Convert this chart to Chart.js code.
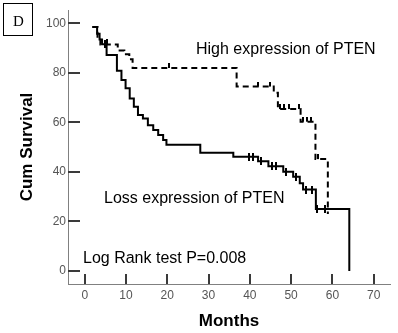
<!DOCTYPE html>
<html>
<head>
<meta charset="utf-8">
<script src="https://cdn.jsdelivr.net/npm/chart.js@4.4.1/dist/chart.umd.min.js"></script>
<style>
  html, body { margin: 0; padding: 0; background: #fff; }
  #wrap { width: 398px; height: 333px; }
</style>
</head>
<body>
<div id="wrap"><canvas id="km" width="398" height="333"></canvas></div>
<script>
// Loss expression of PTEN (solid): time of each step (months) and survival after it (%)
const lossTimes = [2.2, 3.0, 3.6, 4.2, 5.3, 7.8, 8.9, 9.9, 10.9, 11.9, 12.9, 14.1, 15.3, 16.6, 17.8, 19.0, 19.8, 28.0, 36.0, 42.0, 44.5, 48.1, 50.5, 52.1, 52.9, 56.0, 64.1];
const lossSurv  = [98.5, 95.8, 93.5, 91.6, 87.2, 80.9, 77.1, 73.8, 69.7, 66.3, 63.0, 61.6, 58.9, 56.9, 54.9, 52.9, 51.0, 47.8, 46.1, 44.3, 42.3, 40.1, 38.1, 35.4, 32.9, 25.0, 0];
const lossCensorTimes = [4.8, 39.9, 40.7, 42.8, 45.3, 46.3, 48.8, 51.2, 53.6, 55.0, 56.3, 58.3];
const lossCensorSurv  = [91.6, 46.1, 46.1, 44.3, 42.3, 42.3, 40.1, 38.1, 32.9, 32.9, 25.0, 25.0];

// High expression of PTEN (dashed)
const highTimes = [1.8, 3.1, 3.8, 8.0, 9.6, 10.8, 11.6, 36.8, 45.8, 46.8, 52.3, 55.9, 58.9];
const highSurv  = [98.5, 94.0, 91.5, 89.0, 87.5, 85.5, 82.0, 74.5, 72.0, 65.4, 60.3, 45.2, 23.0];
const highCensorTimes = [5.5, 20.5, 42.0, 44.8, 47.4, 48.4, 49.5, 51.8, 52.9, 53.9, 54.8, 56.4];
const highCensorSurv  = [91.5, 82.0, 74.5, 74.5, 65.4, 65.4, 65.4, 65.4, 60.3, 60.3, 60.3, 45.2];

const xTicks = [0, 10, 20, 30, 40, 50, 60, 70];
const yTicks = [0, 20, 40, 60, 80, 100];

const notes = [
  { text: 'High expression of PTEN', x: 196, y: 53.5 },
  { text: 'Loss expression of PTEN', x: 104, y: 203.3 },
  { text: 'Log Rank test P=0.008', x: 83, y: 263.3 }
];

const pts = (xs, ys) => xs.map((t, i) => ({ x: t, y: ys[i] }));

// censor marks: full vertical tick for solid, tick above the line for dashed
function tickMark(up, down) {
  const c = document.createElement('canvas');
  c.width = 2;
  c.height = Math.max(up, down) * 2;
  const g = c.getContext('2d');
  g.fillStyle = '#000';
  g.fillRect(0, c.height / 2 - up, 2, up + down);
  return c;
}
const crossTick = tickMark(4, 4);
const upTick = tickMark(5, 0);

Chart.defaults.font.family = '"Liberation Sans", Arial, sans-serif';

const decor = {
  id: 'decor',
  afterDraw(chart) {
    const { ctx, chartArea, scales: { x, y } } = chart;
    ctx.save();
    ctx.strokeStyle = '#3a3a3a';
    ctx.lineWidth = 2;
    xTicks.forEach(v => {
      const px = Math.round(x.getPixelForValue(v));
      ctx.beginPath();
      ctx.moveTo(px, chartArea.bottom);
      ctx.lineTo(px, chartArea.bottom - 10);
      ctx.stroke();
    });
    yTicks.forEach(v => {
      const py = Math.round(y.getPixelForValue(v));
      ctx.beginPath();
      ctx.moveTo(chartArea.left, py);
      ctx.lineTo(chartArea.left + 12, py);
      ctx.stroke();
    });
    ctx.fillStyle = '#000';
    ctx.font = '16px "Liberation Sans", Arial, sans-serif';
    ctx.textBaseline = 'alphabetic';
    notes.forEach(n => ctx.fillText(n.text, n.x, n.y));
    // panel letter
    ctx.lineWidth = 1;
    ctx.strokeStyle = '#000';
    ctx.strokeRect(3.5, 3.5, 29, 32);
    ctx.font = '15px "Liberation Serif", "Times New Roman", serif';
    ctx.textAlign = 'center';
    ctx.fillText('D', 18.5, 26);
    ctx.restore();
  }
};

const config = {
  type: 'line',
  data: {
    datasets: [
      {
        label: 'Loss expression of PTEN',
        data: pts(lossTimes, lossSurv),
        stepped: 'before',
        borderColor: '#000',
        borderWidth: 2,
        pointRadius: 0,
        fill: false
      },
      {
        label: 'High expression of PTEN',
        data: pts(highTimes, highSurv),
        stepped: 'before',
        borderColor: '#000',
        borderWidth: 2,
        borderDash: [6, 4],
        pointRadius: 0,
        fill: false
      },
      {
        label: 'Loss censored',
        data: pts(lossCensorTimes, lossCensorSurv),
        showLine: false,
        pointStyle: crossTick,
        pointRadius: 4
      },
      {
        label: 'High censored',
        data: pts(highCensorTimes, highCensorSurv),
        showLine: false,
        pointStyle: upTick,
        pointRadius: 4
      }
    ]
  },
  options: {
    responsive: false,
    animation: false,
    layout: { padding: { top: 10, right: 8, left: 0, bottom: 0 } },
    plugins: {
      legend: { display: false },
      tooltip: { enabled: false }
    },
    scales: {
      x: {
        type: 'linear',
        min: -4.05,
        max: 73.96,
        afterBuildTicks: s => { s.ticks = xTicks.map(v => ({ value: v })); },
        afterFit: s => { s.height = 49; },
        grid: { display: true, drawOnChartArea: false, drawTicks: false },
        border: { display: true, color: '#808080', width: 1 },
        ticks: { color: '#555', font: { size: 12 }, padding: 4, maxRotation: 0 },
        title: {
          display: true,
          text: 'Months',
          color: '#000',
          font: { size: 17, weight: 'bold' },
          padding: { top: 0, bottom: 1 }
        }
      },
      y: {
        min: -5.25,
        max: 105.4,
        afterBuildTicks: s => { s.ticks = yTicks.map(v => ({ value: v })); },
        afterFit: s => { s.width = 68; },
        grid: { display: true, drawOnChartArea: false, drawTicks: false },
        border: { display: true, color: '#808080', width: 1 },
        ticks: { color: '#555', font: { size: 12 }, padding: 2 },
        title: {
          display: true,
          text: 'Cum Survival',
          color: '#000',
          font: { size: 17, weight: 'bold' },
          padding: { top: 17, bottom: 0 }
        }
      }
    }
  },
  plugins: [decor]
};

window.addEventListener('DOMContentLoaded', () => {
  new Chart(document.getElementById('km').getContext('2d'), config);
});
</script>
</body>
</html>
